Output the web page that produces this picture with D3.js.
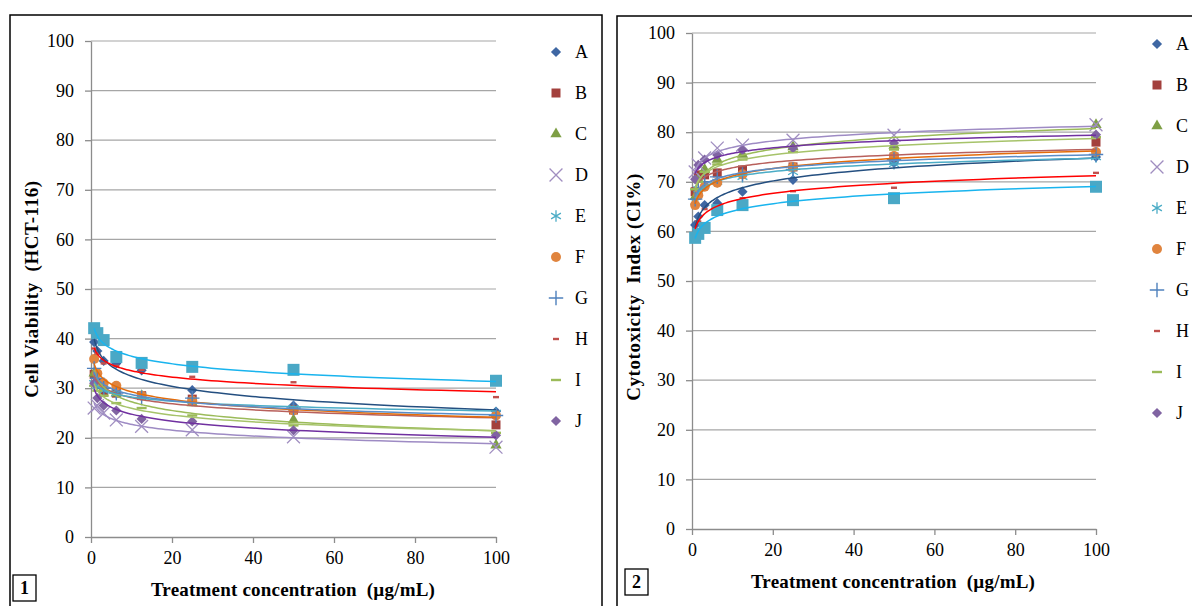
<!DOCTYPE html>
<html>
<head>
<meta charset="utf-8">
<script src="https://cdn.jsdelivr.net/npm/d3@7"></script>
<style>
  body { margin: 0; background: #fff; }
  svg { display: block; }
  text { font-family: "Liberation Serif", "Times New Roman", serif; fill: #000; }
</style>
</head>
<body>
<svg id="chart" width="1192" height="606"></svg>
<script>
// concentrations (µg/mL), serial dilution
const concentrations = [0.78, 1.56, 3.125, 6.25, 12.5, 25, 50, 100];

// series order: A..J shown in legend, the last (cyan squares) has no legend entry
const seriesNames = ["A", "B", "C", "D", "E", "F", "G", "H", "I", "J", "K"];
const legendNames = ["A", "B", "C", "D", "E", "F", "G", "H", "I", "J"];

// panel 1: cell viability (HCT-116)
const viabilityValues = [
  [39.3, 37.5, 35.5, 35.0, 33.6, 29.6, 26.5, 25.3], // A
  [32.8, 31.0, 29.2, 29.0, 28.5, 27.8, 25.6, 22.6], // B
  [33.0, 31.0, 30.0, 29.0, 28.5, 27.0, 23.6, 18.5], // C
  [26.0, 26.5, 25.0, 23.6, 22.3, 21.6, 20.2, 18.1], // D
  [31.0, 30.5, 29.5, 29.0, 28.5, 27.5, 26.0, 25.0], // E
  [35.9, 33.0, 31.0, 30.5, 28.5, 27.5, 25.5, 24.5], // F
  [34.0, 32.0, 30.0, 29.0, 28.0, 28.0, 26.0, 24.5], // G
  [38.0, 37.0, 35.0, 34.5, 33.7, 32.3, 31.2, 28.2], // H
  [30.5, 29.5, 28.5, 27.0, 26.0, 24.5, 22.5, 21.0], // I
  [31.0, 28.0, 26.5, 25.5, 23.8, 23.3, 21.5, 20.5], // J
  [42.1, 41.1, 39.7, 36.3, 35.1, 34.3, 33.7, 31.5]  // K
];

// panel 2: cytotoxicity index (CI%)
const cytotoxicityValues = [
  [61.3, 63.0, 65.3, 65.7, 68.0, 70.4, 73.8, 75.0], // A
  [68.0, 71.4, 71.4, 71.8, 72.4, 73.0, 75.0, 78.0], // B
  [67.0, 70.5, 72.5, 74.5, 75.5, 77.0, 77.3, 81.5], // C
  [72.0, 73.4, 74.8, 76.8, 77.4, 78.4, 79.4, 81.5], // D
  [66.0, 68.5, 69.5, 70.0, 71.0, 72.0, 73.6, 75.0], // E
  [65.3, 67.3, 69.0, 69.8, 71.5, 73.0, 75.2, 76.0], // F
  [66.5, 68.5, 70.0, 71.0, 71.5, 72.5, 74.5, 75.5], // G
  [60.0, 62.0, 64.5, 65.0, 66.7, 68.1, 68.8, 71.8], // H
  [68.5, 70.0, 72.0, 73.5, 74.5, 76.0, 76.5, 79.0], // I
  [70.5, 73.4, 74.5, 75.4, 76.4, 76.8, 77.8, 79.5], // J
  [58.7, 59.5, 60.7, 64.3, 65.3, 66.3, 66.7, 69.0]  // K
];

const xTicks = [0, 20, 40, 60, 80, 100];
const yTicks = [0, 10, 20, 30, 40, 50, 60, 70, 80, 90, 100];

// styles
const markerShapes = ["diamond", "square", "triangle", "times", "asterisk", "circle", "plus", "dashS", "dashL", "diamond", "squareL"];
const markerColors = ["#3F67A3", "#A3403D", "#7E9F45", "#A08EC0", "#4BACC6", "#E0843E", "#4F81BD", "#C0504D", "#9BBB59", "#8064A2", "#4AA8C6"];
const trendColors = ["#244F80", "#B8605C", "#9BBB59", "#9E8BC4", "#4BACC6", "#E46C0A", "#5A8CC8", "#FF0000", "#A6C36A", "#7030A0", "#19B4EE"];

const svg = d3.select("#chart");

function drawMarker(sel, shape, color, cx, cy) {
  const g = sel.append("g").attr("transform", `translate(${cx},${cy})`);
  switch (shape) {
    case "diamond":
      g.append("path").attr("d", d3.symbol(d3.symbolSquare, 52)())
        .attr("transform", "rotate(45)").attr("fill", color);
      break;
    case "square":
      g.append("path").attr("d", d3.symbol(d3.symbolSquare, 81)()).attr("fill", color);
      break;
    case "squareL":
      g.append("path").attr("d", d3.symbol(d3.symbolSquare, 144)()).attr("fill", color);
      break;
    case "triangle":
      g.append("path").attr("d", d3.symbol(d3.symbolTriangle, 55)()).attr("fill", color);
      break;
    case "circle":
      g.append("circle").attr("r", 5).attr("fill", color);
      break;
    case "times":
      g.append("path").attr("d", d3.symbol(d3.symbolTimes, 110)())
        .attr("fill", "none").attr("stroke", color).attr("stroke-width", 1.3);
      break;
    case "asterisk":
      g.append("path").attr("d", d3.symbol(d3.symbolAsterisk, 90)())
        .attr("fill", "none").attr("stroke", color).attr("stroke-width", 1.3);
      break;
    case "plus":
      g.append("path").attr("d", d3.symbol(d3.symbolPlus, 70)())
        .attr("fill", "none").attr("stroke", color).attr("stroke-width", 1.4);
      break;
    case "dashS":
      g.append("rect").attr("x", -3).attr("y", -1.2).attr("width", 6).attr("height", 2.4).attr("fill", color);
      break;
    case "dashL":
      g.append("rect").attr("x", -5).attr("y", -1.2).attr("width", 10).attr("height", 2.4).attr("fill", color);
      break;
  }
}

// least-squares logarithmic trendline y = a*ln(x) + b
function logFit(xs, ys) {
  const lx = xs.map(Math.log);
  const mx = d3.mean(lx), my = d3.mean(ys);
  const a = d3.sum(lx, (v, i) => (v - mx) * (ys[i] - my)) / d3.sum(lx, v => (v - mx) ** 2);
  const b = my - a * mx;
  return xv => a * Math.log(xv) + b;
}

function drawPanel(cfg, values) {
  const x = d3.scaleLinear().domain([0, 100]).range([cfg.left, cfg.right]);
  const y = d3.scaleLinear().domain([0, 100]).range([cfg.bottom, cfg.top]);
  const g = svg.append("g");

  g.append("rect")
    .attr("x", cfg.frame[0]).attr("y", cfg.frame[1])
    .attr("width", cfg.frame[2]).attr("height", cfg.frame[3])
    .attr("fill", "none").attr("stroke", "#000").attr("stroke-width", 1.5);

  // gridlines
  g.append("g")
    .selectAll("line")
    .data(yTicks.filter(d => d > 0))
    .join("line")
    .attr("x1", cfg.left).attr("x2", cfg.right)
    .attr("y1", d => y(d)).attr("y2", d => y(d))
    .attr("stroke", "#A6A6A6").attr("stroke-width", 1.2);

  const yAxis = g.append("g")
    .attr("transform", `translate(${cfg.left},0)`)
    .call(d3.axisLeft(y).tickValues(yTicks).tickSize(6).tickSizeOuter(0).tickPadding(11));
  const xAxis = g.append("g")
    .attr("transform", `translate(0,${cfg.bottom})`)
    .call(d3.axisBottom(x).tickValues(xTicks).tickSize(6).tickSizeOuter(0).tickPadding(6));
  [yAxis, xAxis].forEach(a => {
    a.select(".domain").attr("stroke", "#8C8C8C").attr("stroke-width", 1.3);
    a.selectAll(".tick line").attr("stroke", "#8C8C8C").attr("stroke-width", 1.3);
    a.selectAll(".tick text")
      .attr("font-family", "Liberation Serif").attr("font-size", 18).attr("fill", "#000");
  });
  xAxis.selectAll(".tick text").attr("dy", "0.85em");

  // markers
  values.forEach((row, si) => {
    const mg = g.append("g");
    row.forEach((v, i) => drawMarker(mg, markerShapes[si], markerColors[si], x(concentrations[i]), y(v)));
  });

  // trendlines
  const samples = d3.range(0, 1.0001, 0.01).map(t => 0.78 * Math.pow(100 / 0.78, t));
  const line = d3.line().x(d => x(d[0])).y(d => y(d[1]));
  values.forEach((row, si) => {
    const f = logFit(concentrations, row);
    g.append("path")
      .attr("d", line(samples.map(s => [s, f(s)])))
      .attr("fill", "none")
      .attr("stroke", trendColors[si])
      .attr("stroke-width", 1.5);
  });

  // legend
  const lg = g.append("g");
  legendNames.forEach((name, i) => {
    const si = seriesNames.indexOf(name);
    const ly = cfg.legendY + i * 41;
    drawMarker(lg, markerShapes[si], markerColors[si], cfg.legendX, ly);
    lg.append("text")
      .attr("x", cfg.legendX + 19).attr("y", ly)
      .attr("dy", "0.35em")
      .attr("font-size", 18)
      .text(name);
  });

  // axis titles
  g.append("text")
    .attr("transform", `translate(${cfg.yTitleX},${cfg.yTitleY}) rotate(-90)`)
    .attr("text-anchor", "middle")
    .attr("dy", "0.35em")
    .attr("font-size", 19).attr("font-weight", "bold")
    .attr("letter-spacing", 0.6)
    .attr("xml:space", "preserve")
    .text(cfg.yTitle);
  g.append("text")
    .attr("x", cfg.xTitleX).attr("y", cfg.xTitleY)
    .attr("text-anchor", "middle")
    .attr("dy", "0.35em")
    .attr("font-size", 19).attr("font-weight", "bold")
    .attr("letter-spacing", 0.2)
    .attr("xml:space", "preserve")
    .text("Treatment concentration  (µg/mL)");

  // panel number box
  g.append("rect")
    .attr("x", cfg.box[0]).attr("y", cfg.box[1])
    .attr("width", 23).attr("height", 26)
    .attr("fill", "#fff").attr("stroke", "#000").attr("stroke-width", 1.3);
  g.append("text")
    .attr("x", cfg.box[0] + 11.5).attr("y", cfg.box[1] + 13)
    .attr("text-anchor", "middle").attr("dy", "0.36em")
    .attr("font-size", 18).attr("font-weight", "bold")
    .text(cfg.label);
}

drawPanel({
  frame: [10, 15, 592, 620],
  left: 91, right: 496, top: 41, bottom: 537,
  legendX: 556, legendY: 52,
  yTitle: "Cell Viability  (HCT-116)", yTitleX: 31, yTitleY: 289,
  xTitleX: 293, xTitleY: 589,
  box: [13, 575], label: "1"
}, viabilityValues);

drawPanel({
  frame: [617, 16, 620, 620],
  left: 692, right: 1096, top: 33, bottom: 529,
  legendX: 1157, legendY: 44,
  yTitle: "Cytotoxicity  Index (CI%)", yTitleX: 633, yTitleY: 287,
  xTitleX: 893, xTitleY: 581,
  box: [625, 569], label: "2"
}, cytotoxicityValues);
</script>
</body>
</html>
